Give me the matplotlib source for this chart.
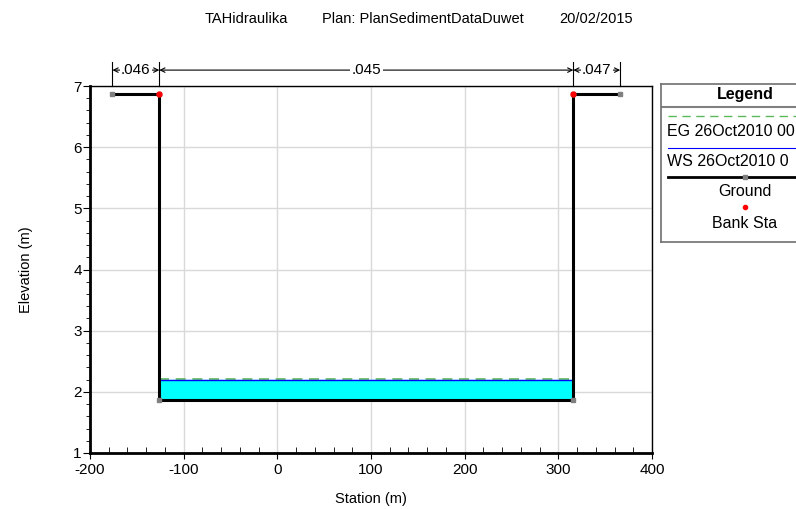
import matplotlib.pyplot as plt
from matplotlib.ticker import MultipleLocator

plt.rcParams['font.family'] = ['Liberation Sans', 'DejaVu Sans']
plt.rcParams['axes.unicode_minus'] = False

# Ground geometry (station, elevation)
ground_sta = [-176, -126, -126, 316, 316, 366]
ground_elev = [6.87, 6.87, 1.86, 1.86, 6.87, 6.87]
bank_sta = [-126, 316]
bank_elev = [6.87, 6.87]
ws_elev = 2.19
eg_elev = 2.21
# Manning's n regions
n_edges = [-176, -126, 316, 366]
n_values = [".046", ".045", ".047"]

fig = plt.figure(figsize=(7.96, 5.09), dpi=100)
ax = fig.add_axes([90 / 796, 1 - 453 / 509, 562 / 796, 367 / 509])

ax.set_xlim(-200, 400)
ax.set_ylim(1, 7)
ax.xaxis.set_major_locator(MultipleLocator(100))
ax.xaxis.set_minor_locator(MultipleLocator(20))
ax.yaxis.set_major_locator(MultipleLocator(1))
ax.yaxis.set_minor_locator(MultipleLocator(0.2))
ax.grid(True, which='major', color='#d9d9d9', lw=1)
ax.set_axisbelow(True)
ax.tick_params(axis='x', which='major', direction='out', length=4, labelsize=11, pad=3)
ax.tick_params(axis='x', which='minor', direction='in', length=4)
ax.tick_params(axis='y', which='major', direction='out', length=5, labelsize=11, pad=1)
ax.tick_params(axis='y', which='minor', direction='out', length=3)
for s in ['left', 'bottom']:
    ax.spines[s].set_linewidth(2)
for s in ['top', 'right']:
    ax.spines[s].set_linewidth(1)

# water fill
ax.fill_between([bank_sta[0], bank_sta[1]], ground_elev[2], ws_elev, color='cyan', zorder=2)
ax.plot([bank_sta[0], bank_sta[1]], [eg_elev, eg_elev], color='#5cb85c', lw=1.2,
        dashes=(6, 4), zorder=3)
ax.plot([bank_sta[0], bank_sta[1]], [ws_elev, ws_elev], color='blue', lw=1, zorder=3)
ax.plot(ground_sta, ground_elev, color='black', lw=2.2, zorder=4)
ax.plot(ground_sta, ground_elev, ls='none', marker='s', ms=3.5, color='#808080', zorder=5)
ax.plot(bank_sta, bank_elev, ls='none', marker='o', ms=3.5, color='red', zorder=6)

# Manning's n annotation above the plot
y_line = 7.26
for xe in n_edges:
    ax.plot([xe, xe], [7.0, 7.39], color='black', lw=0.8, clip_on=False)
for i, txt in enumerate(n_values):
    x0, x1 = n_edges[i], n_edges[i + 1]
    ax.annotate('', xy=(x0, y_line), xytext=(x1, y_line), annotation_clip=False,
                arrowprops=dict(arrowstyle='<->', lw=0.8, color='black',
                                mutation_scale=8, shrinkA=0, shrinkB=0))
    ax.text((x0 + x1) / 2, y_line, txt, ha='center', va='center', fontsize=11,
            bbox=dict(facecolor='white', edgecolor='none', pad=1), clip_on=False)

ax.set_xlabel('Station (m)', fontsize=10.5, labelpad=11)
ax.set_ylabel('Elevation (m)', fontsize=10.5, labelpad=29)

# title pieces
ty = 1 - 19 / 509
fig.text(205 / 796, ty, 'TAHidraulika', ha='left', va='center', fontsize=10.5)
fig.text(322 / 796, ty, 'Plan: PlanSedimentDataDuwet', ha='left', va='center', fontsize=10.5)
fig.text(633 / 796, ty, '20/02/2015', ha='right', va='center', fontsize=10.5)

# Legend box drawn by hand (runs off the figure edge like the original)
lg = fig.add_axes([661 / 796, 1 - 242 / 509, 200 / 796, 158 / 509])
lg.set_xlim(661, 861)
lg.set_ylim(242, 84)
lg.set_xticks([])
lg.set_yticks([])
for s in lg.spines.values():
    s.set_color('#707070')
    s.set_linewidth(1.2)
lg.text(745, 94, 'Legend', ha='center', va='center', fontsize=11.5, fontweight='bold')
lg.plot([661, 861], [107, 107], color='#808080', lw=1.5)
lg.plot([668, 861], [116, 116], color='#5cb85c', lw=1, dashes=(6, 4))
lg.text(667, 132, 'EG 26Oct2010 00', ha='left', va='center', fontsize=11.5)
lg.plot([668, 861], [148, 148], color='blue', lw=0.8)
lg.text(667, 161, 'WS 26Oct2010 0', ha='left', va='center', fontsize=11.5)
lg.plot([668, 861], [177, 177], color='black', lw=2)
lg.plot([745], [177], marker='s', ms=3.5, color='#808080')
lg.text(745, 192, 'Ground', ha='center', va='center', fontsize=11.5)
lg.plot([745], [207], marker='o', ms=3, color='red')
lg.text(745, 223, 'Bank Sta', ha='center', va='center', fontsize=11.5)

fig.savefig('out.png', dpi=100)
